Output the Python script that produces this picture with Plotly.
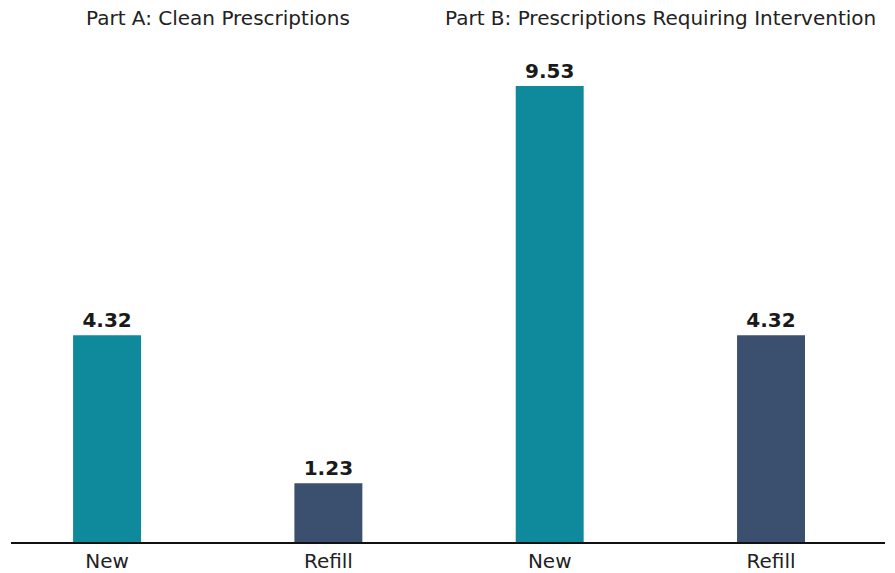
import plotly.graph_objects as go

# Average time per prescription, by type and part
categories = ["New", "Refill", "New", "Refill"]
values = [4.32, 1.23, 9.53, 4.32]
colors = ["#0f8a9d", "#3b4f6e", "#0f8a9d", "#3b4f6e"]
part_titles = ["Part A: Clean Prescriptions", "Part B: Prescriptions Requiring Intervention"]

positions = list(range(len(categories)))
FONT = "DejaVu Sans, Verdana, sans-serif"

fig = go.Figure(
    go.Bar(
        x=positions,
        y=values,
        width=0.307,
        marker=dict(color=colors, line=dict(width=0)),
        text=[f"{v:.2f}" for v in values],
        textposition="outside",
        textfont=dict(family=FONT, size=20, color="#1a1a1a"),
        texttemplate="<b>%{text}</b>",
        cliponaxis=False,
        hoverinfo="skip",
    )
)

# Panel titles centred above each pair of bars
for i, title in enumerate(part_titles):
    fig.add_annotation(
        x=(positions[2 * i] + positions[2 * i + 1]) / 2,
        xref="x",
        y=1,
        yref="paper",
        yshift=46,
        text=title,
        showarrow=False,
        yanchor="middle",
        font=dict(family=FONT, size=20, color="#222222"),
    )

fig.update_layout(
    width=895,
    height=573,
    margin=dict(l=11, r=10, t=64, b=31),
    paper_bgcolor="white",
    plot_bgcolor="white",
    showlegend=False,
    xaxis=dict(
        range=[-0.434, 3.515],
        tickvals=positions,
        ticktext=categories,
        showgrid=False,
        zeroline=False,
        showline=True,
        linecolor="#111111",
        linewidth=1.5,
        ticks="",
        automargin=False,
        tickfont=dict(family=FONT, size=20, color="#222222"),
        fixedrange=True,
    ),
    yaxis=dict(
        range=[0, 9.99],
        visible=False,
        showgrid=False,
        zeroline=False,
        automargin=False,
        fixedrange=True,
    ),
)

fig.write_html("out.html")
